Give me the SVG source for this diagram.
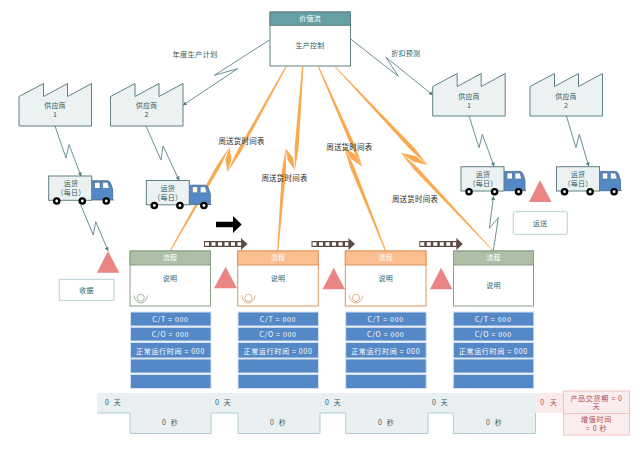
<svg xmlns="http://www.w3.org/2000/svg" width="640" height="452" viewBox="0 0 640 452">
<style>
text{font-family:"Noto Sans CJK SC","Liberation Sans",sans-serif;font-size:7px;text-anchor:middle;fill:#2f5d62;letter-spacing:.2px}
.blk{fill:#2a2a2a;font-size:7.5px}
.wht{fill:#fff}
.pnk{fill:#b04a55;letter-spacing:.7px}
.d{letter-spacing:.7px}
.t{word-spacing:3px}
.z{fill:none;stroke:#6a9297;stroke-width:1;marker-end:url(#a)}
.o{fill:#FBA94F}
.fac{fill:#ECF1F2;stroke:#5f8085;stroke-width:1}
.tri{fill:#E98585}
.lbl{fill:#fff;stroke:#B5D3D8;stroke-width:1}
.pb{fill:#fff;stroke-width:1}
.row{fill:#5588C6;stroke:#D3E1F5;stroke-width:1}
.gn{stroke:#8A9E85}.gh{fill:#ADBFA6;stroke:#8A9E85}
.or{stroke:#D9975C}.oh{fill:#FBBE90;stroke:#D9975C}
.pa{fill:none;stroke:#5D4A42;stroke-width:6}
.pi{fill:none;stroke:#fff;stroke-width:3.5;stroke-dasharray:4 2.5}
</style>
<defs>
<marker id="a" markerWidth="4" markerHeight="4" refX="3.5" refY="2" orient="auto" markerUnits="userSpaceOnUse"><path d="M0 0L4 2L0 4Z" fill="#4f7d83"/></marker>
<g id="truck">
<path d="M43 4.7H59Q61 4.7 62 7.5L64 13.5V23.2L65 24H41V4.7Z" fill="#5588C6" stroke="#44688f" stroke-width=".8"/>
<rect x="46" y="6.3" width="5.3" height="6" fill="#fff" stroke="#3f5f80" stroke-width=".5"/>
<path d="M54 6.3H59L60.6 12.3H54Z" fill="#fff" stroke="#3f5f80" stroke-width=".5"/>
<rect x="0" y="0" width="43" height="24.3" fill="#ECF1F2" stroke="#5f8085"/>
<g fill="#000"><circle cx="8" cy="25" r="3.8"/><circle cx="33.6" cy="25" r="3.8"/><circle cx="57.6" cy="25" r="3.8"/></g>
<g fill="#fff"><circle cx="8" cy="25" r="1.4"/><circle cx="33.6" cy="25" r="1.4"/><circle cx="57.6" cy="25" r="1.4"/></g>
</g>
<path id="fa" class="fac" d="M0 13L24.5 0V13L48.5 0V13L72.5 0V42.5H0Z"/>
<g id="arrow"><path class="pa" d="M0 0H38"/><path class="pi" d="M1 0H37"/><path d="M37 -6L43.5 0L37 6Z" fill="#5D4A42"/></g>
<g id="rows">
<rect class="row" x="0" y="0" width="80.5" height="14"/><rect class="row" x="0" y="15.3" width="80.5" height="13.7"/><rect class="row" x="0" y="30.5" width="80.5" height="15.5"/><rect class="row" x="0" y="47" width="80.5" height="14"/><rect class="row" x="0" y="62.5" width="80.5" height="14"/>
</g>
<g id="op" fill="none" stroke-width=".9"><circle cx="10.7" cy="3.8" r="3.6"/><path d="M4 1.5Q5.5 9 10.7 9T17.5 1.5"/></g>
</defs>

<g id="timeline">
<path d="M97.3 393H535V433.5H453.3V413H428V433.5H345.7V413H320V433.5H238V413H211V433.5H130V413H97.3Z" fill="#EAF0F1"/>
<path d="M97.3 413H130V433.5H211V413H238V433.5H320V413H345.7V433.5H428V413H453.3V433.5H535.5V413" fill="none" stroke="#B0CDD2" stroke-width="1"/>
<rect x="535" y="393" width="29" height="20" fill="#FBEAEA"/>
<text class="t" x="113" y="404.5">0 天</text><text class="t" x="223" y="404.5">0 天</text><text class="t" x="333" y="404.5">0 天</text><text class="t" x="440" y="404.5">0 天</text><text x="549" y="404.5" class="pnk t">0 天</text>
<text class="t" x="170" y="425">0 秒</text><text class="t" x="278" y="425">0 秒</text><text class="t" x="386" y="425">0 秒</text><text class="t" x="494" y="425">0 秒</text>
</g>
<g id="total-time">
<rect x="563.5" y="391" width="66" height="22.5" fill="#FAEDED" stroke="#F4C0C0"/>
<rect x="563.5" y="413.5" width="66" height="21.5" fill="#FAEDED" stroke="#F4C0C0"/>
<text class="pnk" x="596.5" y="400.5">产品交货期 = 0</text><text class="pnk" x="596.5" y="409">天</text>
<text class="pnk" x="596.5" y="422">增值时间</text><text class="pnk" x="596.5" y="430.5">= 0 秒</text>
</g>

<g id="connectors">
<polyline class="z" points="55,126 66,158 69,144.5 81,176"/>
<polyline class="z" points="146,126 161,160 163,146 179,180"/>
<polyline class="z" points="80.7,205 93.3,235 95.7,221.7 108,250.7"/>
<polyline class="z" points="269.5,40 214.3,75.3 237.7,68.7 183.3,105"/>
<polyline class="z" points="351,39.3 398.3,76.3 386,57.3 432.7,95"/>
<polyline class="z" points="469,115.7 479,147.7 482.3,134.3 494,166"/>
<polyline class="z" points="566.3,115.7 576,147.7 579.3,134.3 588.7,166"/>
<polyline class="z" points="493.3,251 498.3,217.7 489.3,228.3 493.5,196.5"/>
<polygon class="o" points="285.3,66.7 286.7,66.7 239.8,153.8 227.5,172 236.6,151.8"/>
<polygon class="o" points="169.5,251 170.7,251 220.1,167.1 229.5,147 217.1,165.1"/>
<polygon class="o" points="227.5,172 231.5,159.5 229.5,147 225.5,159.5"/>
<polygon class="o" points="302,66.7 303.4,66.7 298.6,148.1 295,170 294.6,147.9"/>
<polygon class="o" points="277.1,251 278.3,251 286,170.4 285.7,148.3 282,170"/>
<polygon class="o" points="295,170 293.1,158 285.7,148.3 287.6,160.4"/>
<polygon class="o" points="317.9,66.7 319.1,66.7 355.3,145.7 362.3,166.7 351.7,147.3"/>
<polygon class="o" points="385.1,251 386.3,251 354.1,166.5 344,146.7 350.3,168"/>
<polygon class="o" points="362.3,166.7 355.4,154.7 344,146.7 350.9,158.7"/>
<polygon class="o" points="334.6,66.7 335.6,66.7 414,147.6 427.7,165 411.1,150.4"/>
<polygon class="o" points="492.9,251 493.7,251 417.3,167.3 400.7,152.7 414.4,170.1"/>
<polygon class="o" points="427.7,165 415.4,156.1 400.7,152.7 413,161.6"/>
<text class="blk" x="241.5" y="144">周送货时间表</text>
<text class="blk" x="284.5" y="180.5">周送货时间表</text>
<text class="blk" x="349.3" y="149.5">周送货时间表</text>
<text class="blk" x="415" y="201.5">周送货时间表</text>
<text x="195" y="57" style="font-size:7.3px">年度生产计划</text>
<text x="405.7" y="56">折扣预测</text>
</g>

<g id="value-stream">
<rect x="270" y="12" width="80.5" height="54" fill="#fff" stroke="#5f8085"/>
<rect x="270" y="12" width="80.5" height="13.3" fill="#66A0A5" stroke="#5f8085"/>
<text class="wht" x="310" y="21">价值流</text>
<text x="310" y="47.5">生产控制</text>
</g>
<g id="supplier-1"><use href="#fa" x="19" y="83.5"/><text x="55" y="108">供应商</text><text x="55" y="117">1</text></g>
<g id="supplier-2"><use href="#fa" x="110.5" y="83.5"/><text x="146.5" y="108">供应商</text><text x="146.5" y="117">2</text></g>
<g id="supplier-3"><use href="#fa" x="432.7" y="73.5"/><text x="469" y="98.5">供应商</text><text x="469" y="107.5">1</text></g>
<g id="supplier-4"><use href="#fa" x="530" y="73.5"/><text x="566" y="98.5">供应商</text><text x="566" y="107.5">2</text></g>

<g id="truck-1"><use href="#truck" x="48.7" y="176"/><text x="71" y="185.5">运货</text><text x="71" y="194.5">（每日）</text></g>
<g id="truck-2"><use href="#truck" x="146.3" y="180.5"/><text x="167.7" y="190.5">运货</text><text x="167.7" y="199.5">（每日）</text></g>
<g id="truck-3"><use href="#truck" x="461" y="166.7"/><text x="483" y="176.5">运货</text><text x="483" y="185.5">（每日）</text></g>
<g id="truck-4"><use href="#truck" x="556.5" y="166.7"/><text x="578" y="176.5">运货</text><text x="578" y="185.5">（每日）</text></g>

<g id="inventory-1"><path class="tri" d="M108 251L119.3 272.7H97Z"/></g>
<g id="inventory-2"><path class="tri" d="M225.7 266.7L237 288.3H214Z"/></g>
<g id="inventory-3"><path class="tri" d="M333.7 267.7L345 289.3H322.5Z"/></g>
<g id="inventory-4"><path class="tri" d="M441 267.7L452.5 289.3H430Z"/></g>
<g id="inventory-5"><path class="tri" d="M540 180L551.5 202H529Z"/></g>

<g id="receiving"><rect class="lbl" x="59.3" y="279.3" width="54.7" height="21"/><text x="86.5" y="292.5">收据</text></g>
<g id="shipping"><rect class="lbl" x="513.3" y="211.7" width="54" height="22.6" rx="1"/><text x="540" y="225.5">运送</text></g>

<g id="push-arrows">
<use href="#arrow" x="204" y="244"/>
<use href="#arrow" x="311.5" y="244"/>
<use href="#arrow" x="419.3" y="244"/>
<path d="M216 221.7H233V216L241.7 224.5L233 233V227.3H216Z" fill="#000"/>
</g>

<g id="process-1">
<rect class="pb gn" x="130" y="251" width="80.5" height="55"/><rect class="gh" x="130" y="251" width="80.5" height="14"/>
<text class="wht" x="170" y="259.5">流程</text><text x="170" y="281">说明</text>
<use href="#op" x="130" y="294" stroke="#9AAB95"/>
</g>
<g id="process-2">
<rect class="pb or" x="237.7" y="251" width="80.6" height="55"/><rect class="oh" x="237.7" y="251" width="80.6" height="14"/>
<text class="wht" x="278" y="259.5">流程</text><text x="278" y="281">说明</text>
<use href="#op" x="237.7" y="294" stroke="#DDA878"/>
</g>
<g id="process-3">
<rect class="pb or" x="345.3" y="251" width="80.7" height="55"/><rect class="oh" x="345.3" y="251" width="80.7" height="14"/>
<text class="wht" x="385.7" y="259.5">流程</text><text x="385.7" y="281">说明</text>
<use href="#op" x="345.3" y="294" stroke="#DDA878"/>
</g>
<g id="process-4">
<rect class="pb gn" x="453.5" y="251" width="80" height="55"/><rect class="gh" x="453.5" y="251" width="80" height="14"/>
<text class="wht" x="493.5" y="259.5">流程</text><text x="493.5" y="288">说明</text>
</g>

<g id="data-1"><use href="#rows" x="130.5" y="312"/>
<text class="wht d" x="170.5" y="321.5">C/T = 000</text><text class="wht d" x="170.5" y="336.5">C/O = 000</text><text class="wht d" x="170.5" y="353.5">正常运行时间 = 000</text></g>
<g id="data-2"><use href="#rows" x="238" y="312"/>
<text class="wht d" x="278" y="321.5">C/T = 000</text><text class="wht d" x="278" y="336.5">C/O = 000</text><text class="wht d" x="278" y="353.5">正常运行时间 = 000</text></g>
<g id="data-3"><use href="#rows" x="345.7" y="312"/>
<text class="wht d" x="385.7" y="321.5">C/T = 000</text><text class="wht d" x="385.7" y="336.5">C/O = 000</text><text class="wht d" x="385.7" y="353.5">正常运行时间 = 000</text></g>
<g id="data-4"><use href="#rows" x="453.3" y="312"/>
<text class="wht d" x="493.3" y="321.5">C/T = 000</text><text class="wht d" x="493.3" y="336.5">C/O = 000</text><text class="wht d" x="493.3" y="353.5">正常运行时间 = 000</text></g>
</svg>
